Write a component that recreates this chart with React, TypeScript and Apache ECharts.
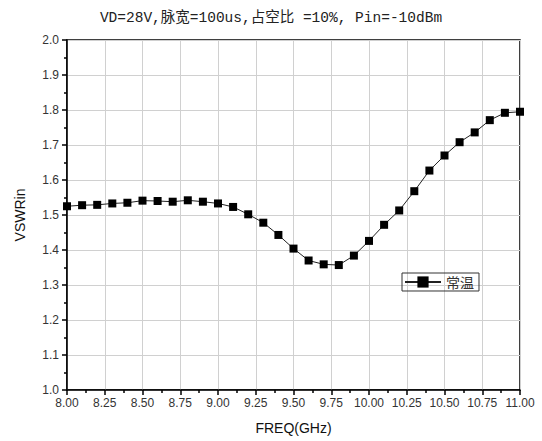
import React, { useEffect, useRef } from "react";
import * as echarts from "echarts";

const freqs = [8.0, 8.1, 8.2, 8.3, 8.4, 8.5, 8.6, 8.7, 8.8, 8.9, 9.0, 9.1, 9.2, 9.3, 9.4, 9.5, 9.6, 9.7, 9.8, 9.9, 10.0, 10.1, 10.2, 10.3, 10.4, 10.5, 10.6, 10.7, 10.8, 10.9, 11.0];
const vswr = [1.525, 1.528, 1.529, 1.533, 1.535, 1.541, 1.540, 1.538, 1.542, 1.538, 1.533, 1.523, 1.502, 1.478, 1.443, 1.404, 1.370, 1.359, 1.357, 1.384, 1.426, 1.472, 1.513, 1.568, 1.627, 1.670, 1.708, 1.736, 1.771, 1.792, 1.795];
const seriesName = "常温";
const titleText = "VD=28V,脉宽=100us,占空比 =10%, Pin=-10dBm";

export default function App() {
  const ref = useRef<HTMLDivElement>(null);
  useEffect(() => {
    if (!ref.current) return;
    const chart = echarts.init(ref.current, null, { renderer: "svg" });
    const labelFont = "'Liberation Sans', Arial, sans-serif";
    chart.setOption({
      animation: false,
      backgroundColor: "#fff",
      title: {
        text: titleText,
        left: "center",
        top: 6,
        textStyle: {
          fontFamily: "'Liberation Mono', 'Noto Sans CJK SC', monospace",
          fontWeight: "normal",
          fontSize: 14.5,
          color: "#222",
        },
      },
      legend: {
        left: 402,
        top: 273,
        padding: [2, 5, 2, 2],
        borderColor: "#333",
        borderWidth: 1,
        itemWidth: 36,
        itemHeight: 14,
        itemGap: 4,
        textStyle: { fontFamily: "'Noto Sans CJK SC', sans-serif", fontSize: 14, color: "#333" },
        data: [seriesName],
      },
      grid: {
        left: 67,
        right: 22,
        top: 40,
        bottom: 51,
        show: true,
        borderColor: "#000",
        borderWidth: 1.5,
      },
      xAxis: {
        type: "value",
        min: 8,
        max: 11,
        interval: 0.25,
        name: "FREQ(GHz)",
        nameLocation: "middle",
        nameGap: 31,
        nameTextStyle: { fontFamily: labelFont, fontSize: 14, color: "#111" },
        axisLine: { show: true, onZero: false, lineStyle: { color: "#000", width: 1.5 } },
        axisTick: { show: true, inside: false, length: 5, lineStyle: { color: "#000", width: 1.5 } },
        minorTick: { show: true, splitNumber: 2, length: 3, lineStyle: { color: "#000", width: 1.5 } },
        axisLabel: {
          fontFamily: labelFont,
          fontSize: 12,
          color: "#333",
          margin: 7,
          formatter: (v: number) => v.toFixed(2),
        },
        splitLine: { show: true, lineStyle: { color: "#d0d0d0", width: 1 } },
      },
      yAxis: {
        type: "value",
        min: 1.0,
        max: 2.0,
        interval: 0.1,
        name: "VSWRin",
        nameLocation: "middle",
        nameGap: 40,
        nameTextStyle: { fontFamily: labelFont, fontSize: 14, color: "#111" },
        axisLine: { show: true, onZero: false, lineStyle: { color: "#000", width: 1.5 } },
        axisTick: { show: true, inside: false, length: 5, lineStyle: { color: "#000", width: 1.5 } },
        minorTick: { show: true, splitNumber: 2, length: 3, lineStyle: { color: "#000", width: 1.5 } },
        axisLabel: {
          fontFamily: labelFont,
          fontSize: 12,
          color: "#333",
          margin: 8,
          formatter: (v: number) => v.toFixed(1),
        },
        splitLine: { show: true, lineStyle: { color: "#d0d0d0", width: 1 } },
      },
      series: [
        {
          name: seriesName,
          type: "line",
          data: freqs.map((f, i) => [f, vswr[i]]),
          symbol: "rect",
          symbolSize: 8,
          itemStyle: { color: "#000" },
          lineStyle: { color: "#222", width: 1 },
          clip: false,
        },
      ],
    });
    return () => chart.dispose();
  }, []);
  return <div ref={ref} style={{ width: 542, height: 441, position: "absolute", left: 0, top: 0 }} />;
}
